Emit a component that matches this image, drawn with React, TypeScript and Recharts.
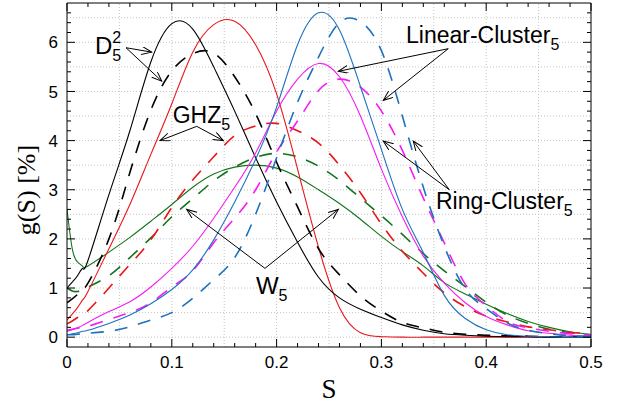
import React from "react";
import {
  LineChart,
  Line,
  XAxis,
  YAxis,
  ReferenceLine,
  ReferenceDot,
  Label,
} from "recharts";

const sValues = [
  0, 0.005, 0.01, 0.015, 0.02, 0.04, 0.06, 0.08, 0.1, 0.12, 0.14, 0.16, 0.18, 0.2, 0.22,
  0.24, 0.26, 0.28, 0.3, 0.32, 0.34, 0.36, 0.38, 0.4, 0.42, 0.44, 0.46, 0.48, 0.5,
];

// g(S) in %, solid = first variant, dashed = second variant
const dickeSolid = [
  1.0, 1.12, 1.25, 1.4, 1.56, 2.9, 4.2, 5.6, 6.38, 6.27, 5.5, 4.6, 3.65, 2.75, 1.93,
  1.22, 0.8, 0.57, 0.4, 0.25, 0.14, 0.07, 0.04, 0.02, 0.01, 0.01, 0, 0, 0,
];
const dickeDashed = [
  0.7, 0.78, 0.87, 0.98, 1.1, 2.0, 3.35, 4.62, 5.42, 5.77, 5.78, 5.3, 4.55, 3.56, 2.65,
  1.8, 1.27, 0.84, 0.53, 0.3, 0.19, 0.1, 0.06, 0.04, 0.03, 0.02, 0.01, 0.01, 0,
];
const ghzSolid = [
  0.35, 0.47, 0.6, 0.76, 0.93, 1.8, 2.7, 3.72, 4.75, 5.8, 6.36, 6.43, 5.95, 4.95, 3.42,
  1.83, 0.6, 0.09, 0.01, 0, 0, 0, 0, 0, 0, 0, 0, 0, 0,
];
const ghzDashed = [
  0.27, 0.33, 0.4, 0.47, 0.54, 1.0, 1.48, 1.98, 2.64, 3.2, 3.67, 4.1, 4.3, 4.35, 4.2,
  3.95, 3.5, 2.94, 2.3, 1.75, 1.3, 0.9, 0.62, 0.43, 0.31, 0.21, 0.15, 0.1, 0.07,
];
const wSolid = [
  2.6, 1.8, 1.53, 1.44, 1.45, 1.73, 2.03, 2.36, 2.7, 3.05, 3.32, 3.46, 3.5, 3.44, 3.26,
  3.0, 2.72, 2.4, 2.05, 1.74, 1.45, 1.11, 0.88, 0.67, 0.48, 0.32, 0.2, 0.11, 0.05,
];
const wDashed = [
  1.0, 0.94, 0.93, 0.96, 1.02, 1.25, 1.62, 2.02, 2.45, 2.82, 3.18, 3.46, 3.66, 3.74, 3.67,
  3.48, 3.19, 2.83, 2.47, 2.09, 1.7, 1.35, 1.03, 0.71, 0.45, 0.28, 0.16, 0.09, 0.05,
];
const ringSolid = [
  0.05, 0.07, 0.09, 0.12, 0.14, 0.28, 0.45, 0.68, 0.97, 1.37, 1.98, 2.75, 3.62, 4.68, 5.95,
  6.6, 6.25, 5.1, 3.82, 2.6, 1.72, 0.85, 0.38, 0.15, 0.05, 0.02, 0.01, 0, 0,
];
const ringDashed = [
  0.05, 0.05, 0.06, 0.07, 0.08, 0.12, 0.21, 0.35, 0.5, 0.79, 1.17, 1.62, 2.5, 3.65, 4.78,
  5.7, 6.4, 6.42, 5.83, 4.5, 3.05, 1.85, 0.98, 0.58, 0.29, 0.14, 0.07, 0.03, 0.02,
];
const linearSolid = [
  0.12, 0.15, 0.19, 0.24, 0.3, 0.52, 0.72, 1.02, 1.4, 1.85, 2.42, 3.05, 3.75, 4.6, 5.25,
  5.57, 5.3, 4.5, 3.42, 2.45, 1.65, 1.1, 0.7, 0.42, 0.25, 0.13, 0.08, 0.04, 0.02,
];
const linearDashed = [
  0.14, 0.16, 0.18, 0.2, 0.22, 0.36, 0.5, 0.7, 1.02, 1.35, 1.92, 2.42, 3.0, 3.77, 4.4,
  5.02, 5.25, 5.09, 4.6, 3.8, 2.83, 1.92, 1.08, 0.64, 0.32, 0.19, 0.12, 0.07, 0.04,
];

// axes
const xTicks = [
  0, 0.02, 0.04, 0.06, 0.08, 0.1, 0.12, 0.14, 0.16, 0.18, 0.2, 0.22, 0.24, 0.26, 0.28, 0.3,
  0.32, 0.34, 0.36, 0.38, 0.4, 0.42, 0.44, 0.46, 0.48, 0.5,
];
const xLabels = [0, 0.1, 0.2, 0.3, 0.4, 0.5];
const yTicks = [
  0, 0.2, 0.4, 0.6, 0.8, 1, 1.2, 1.4, 1.6, 1.8, 2, 2.2, 2.4, 2.6, 2.8, 3, 3.2, 3.4, 3.6, 3.8,
  4, 4.2, 4.4, 4.6, 4.8, 5, 5.2, 5.4, 5.6, 5.8, 6, 6.2, 6.4, 6.6,
];
const yLabels = [0, 1, 2, 3, 4, 5, 6];
const xGrid = [0.05, 0.1, 0.15, 0.2, 0.25, 0.3, 0.35, 0.4, 0.45];
const yGrid = [0, 0.5, 1, 1.5, 2, 2.5, 3, 3.5, 4, 4.5, 5, 5.5, 6, 6.5];

const rows = sValues.map((s, i) => ({
  s,
  dickeSolid: dickeSolid[i],
  dickeDashed: dickeDashed[i],
  ghzSolid: ghzSolid[i],
  ghzDashed: ghzDashed[i],
  wSolid: wSolid[i],
  wDashed: wDashed[i],
  ringSolid: ringSolid[i],
  ringDashed: ringDashed[i],
  linearSolid: linearSolid[i],
  linearDashed: linearDashed[i],
}));

const series = [
  { key: "wSolid", color: "#13741b", dashed: false },
  { key: "wDashed", color: "#13741b", dashed: true },
  { key: "ghzSolid", color: "#e8161b", dashed: false },
  { key: "ghzDashed", color: "#e8161b", dashed: true },
  { key: "dickeSolid", color: "#000000", dashed: false },
  { key: "dickeDashed", color: "#000000", dashed: true },
  { key: "linearSolid", color: "#f51cf3", dashed: false },
  { key: "linearDashed", color: "#f51cf3", dashed: true },
  { key: "ringSolid", color: "#1c72bd", dashed: false },
  { key: "ringDashed", color: "#1c72bd", dashed: true },
];

// annotations, in data units (S, g)
const notes = [
  { id: "d", text: "D", sup: "2", sub: "5", x: 0.0267, y: 5.77, size: 24 },
  { id: "ghz", text: "GHZ", sub: "5", x: 0.1009, y: 4.36, size: 23 },
  { id: "lin", text: "Linear-Cluster", sub: "5", x: 0.3235, y: 5.98, size: 23 },
  { id: "ring", text: "Ring-Cluster", sub: "5", x: 0.3521, y: 2.61, size: 23 },
  { id: "w", text: "W", sub: "5", x: 0.1803, y: 0.87, size: 24 },
];
const arrows = [
  { from: [0.0563, 5.89], to: [0.0808, 5.8] },
  { from: [0.0563, 5.89], to: [0.0904, 5.21] },
  { from: [0.1238, 4.29], to: [0.0887, 4.0] },
  { from: [0.1238, 4.29], to: [0.1491, 4.0] },
  { from: [0.3638, 5.87], to: [0.2589, 5.41] },
  { from: [0.3638, 5.87], to: [0.3018, 4.82] },
  { from: [0.3648, 3.0], to: [0.3018, 3.99] },
  { from: [0.3648, 3.0], to: [0.3304, 3.99] },
  { from: [0.1889, 1.4], to: [0.1142, 2.6] },
  { from: [0.1889, 1.4], to: [0.2589, 2.6] },
];

const SANS = "Liberation Sans, Arial, sans-serif";
const SERIF = "Liberation Serif, Times New Roman, serif";
const GRID = "#c4c4c4";

const hasValue = (list: number[], v: number) => list.some((t) => Math.abs(t - v) < 1e-9);

function makeXTick(side: "bottom" | "top") {
  return (props: any) => {
    const { x, y, payload } = props;
    const major = hasValue(xLabels, payload.value);
    const len = major ? 8 : 4;
    const dir = side === "bottom" ? -1 : 1;
    return (
      <g>
        <line x1={x} x2={x} y1={y} y2={y + dir * len} stroke="#000" strokeWidth={1} />
        {side === "bottom" && major && (
          <text x={x} y={y + 21} textAnchor="middle" fontFamily={SANS} fontSize={17} fill="#000">
            {String(payload.value)}
          </text>
        )}
      </g>
    );
  };
}

function makeYTick(side: "left" | "right") {
  return (props: any) => {
    const { x, y, payload } = props;
    const major = hasValue(yLabels, payload.value);
    const len = major ? 8 : 4;
    const dir = side === "left" ? 1 : -1;
    return (
      <g>
        <line x1={x} x2={x + dir * len} y1={y} y2={y} stroke="#000" strokeWidth={1} />
        {side === "left" && major && (
          <text x={x - 9} y={y} dy="0.36em" textAnchor="end" fontFamily={SANS} fontSize={17} fill="#000">
            {String(payload.value)}
          </text>
        )}
      </g>
    );
  };
}

function NoteText({ cx, cy, note }: { cx: number; cy: number; note: any }) {
  return (
    <text x={cx} y={cy} fontFamily={SANS} fontSize={note.size} fill="#000">
      {note.text}
      {note.sup ? (
        <>
          <tspan dy={-11} fontSize={16}>{note.sup}</tspan>
          <tspan dx={-9} dy={18} fontSize={16}>{note.sub}</tspan>
        </>
      ) : (
        <tspan dy={7} fontSize={16}>{note.sub}</tspan>
      )}
    </text>
  );
}

export default function App() {
  return (
    <div style={{ position: "absolute", left: 0, top: 0, width: 625, height: 405, background: "#fff" }}>
      <LineChart width={625} height={405} data={rows} margin={{ top: 2, right: 33, bottom: 0, left: 0 }}>
        <defs>
          <marker id="arrowHead" markerWidth={12} markerHeight={10} refX={10} refY={4} orient="auto" markerUnits="userSpaceOnUse">
            <path d="M0,0 L10,4 L0,8" fill="none" stroke="#000" strokeWidth={1} />
          </marker>
        </defs>

        <XAxis
          xAxisId="b"
          dataKey="s"
          type="number"
          domain={[0, 0.5]}
          ticks={xTicks}
          interval={0}
          height={58}
          tickSize={0}
          tickMargin={0}
          tickLine={false}
          axisLine={{ stroke: "#000" }}
          tick={makeXTick("bottom")}
          allowDataOverflow
        >
          <Label
            content={(p: any) => {
              const vb = p.viewBox;
              return (
                <text x={vb.x + vb.width / 2} y={vb.y + 51} textAnchor="middle" fontFamily={SERIF} fontSize={27} fill="#000">
                  S
                </text>
              );
            }}
          />
        </XAxis>
        <XAxis
          xAxisId="t"
          orientation="top"
          dataKey="s"
          type="number"
          domain={[0, 0.5]}
          ticks={xTicks}
          interval={0}
          height={1}
          tickSize={0}
          tickMargin={0}
          tickLine={false}
          axisLine={{ stroke: "#000" }}
          tick={makeXTick("top")}
          allowDataOverflow
        />
        <YAxis
          yAxisId="l"
          type="number"
          domain={[-0.2, 6.8]}
          ticks={yTicks}
          interval={0}
          width={67}
          tickSize={0}
          tickMargin={0}
          tickLine={false}
          axisLine={{ stroke: "#000" }}
          tick={makeYTick("left")}
          allowDataOverflow
        >
          <Label
            content={(p: any) => {
              const vb = p.viewBox;
              const cx = vb.x + 35;
              const cy = vb.y + vb.height / 2 + 15;
              return (
                <text
                  x={cx}
                  y={cy}
                  transform={`rotate(-90 ${cx} ${cy})`}
                  textAnchor="middle"
                  fontFamily={SERIF}
                  fontSize={26}
                  fill="#000"
                >
                  g(S) [%]
                </text>
              );
            }}
          />
        </YAxis>
        <YAxis
          yAxisId="r"
          orientation="right"
          type="number"
          domain={[-0.2, 6.8]}
          ticks={yTicks}
          interval={0}
          width={1}
          tickSize={0}
          tickMargin={0}
          tickLine={false}
          axisLine={{ stroke: "#000" }}
          tick={makeYTick("right")}
          allowDataOverflow
        />

        {xGrid.map((v) => (
          <ReferenceLine key={`gx-${v}`} xAxisId="b" yAxisId="l" x={v} stroke={GRID} strokeDasharray="1 2" />
        ))}
        {yGrid.map((v) => (
          <ReferenceLine key={`gy-${v}`} xAxisId="b" yAxisId="l" y={v} stroke={GRID} strokeDasharray="1 2" />
        ))}

        {series.map((s) => (
          <Line
            key={s.key}
            xAxisId="b"
            yAxisId="l"
            dataKey={s.key}
            type="natural"
            stroke={s.color}
            strokeWidth={s.dashed ? 1.6 : 1.1}
            strokeDasharray={s.dashed ? "13 11" : undefined}
            dot={false}
            activeDot={false}
            isAnimationActive={false}
          />
        ))}

        {arrows.map((a, i) => (
          <ReferenceLine
            key={`arrow-${i}`}
            xAxisId="b"
            yAxisId="l"
            segment={[
              { x: a.from[0], y: a.from[1] },
              { x: a.to[0], y: a.to[1] },
            ]}
            ifOverflow="visible"
            shape={(p: any) => (
              <line x1={p.x1} y1={p.y1} x2={p.x2} y2={p.y2} stroke="#000" strokeWidth={1} markerEnd="url(#arrowHead)" />
            )}
          />
        ))}

        {notes.map((n) => (
          <ReferenceDot
            key={n.id}
            xAxisId="b"
            yAxisId="l"
            x={n.x}
            y={n.y}
            r={0}
            ifOverflow="visible"
            shape={(p: any) => <NoteText cx={p.cx} cy={p.cy} note={n} />}
          />
        ))}
      </LineChart>
    </div>
  );
}
